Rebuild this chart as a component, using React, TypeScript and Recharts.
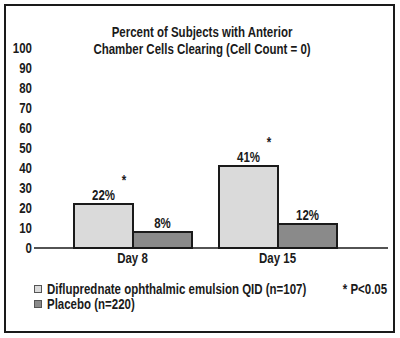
import { BarChart, Bar, XAxis, YAxis, LabelList } from 'recharts';

const days = ['Day 8', 'Day 15'];
const difluprednate = [22, 41];
const placebo = [8, 12];
const significant = [true, true];
const yTicks = [0, 10, 20, 30, 40, 50, 60, 70, 80, 90, 100];

const data = days.map((day, i) => ({
  day,
  diflu: difluprednate[i],
  placebo: placebo[i],
  sig: significant[i],
}));

const FONT = '"Liberation Sans", Arial, sans-serif';
const INK = '#1a1a1a';
const SQUEEZE = 0.82;

// condensed-looking svg text: squeeze horizontally around the anchor point
function NarrowText({ x, y, anchor = 'middle', children }: any) {
  return (
    <text
      transform={`translate(${x},${y}) scale(${SQUEEZE},1)`}
      x={0}
      y={0}
      textAnchor={anchor}
      fontSize={14}
      fontWeight="bold"
      fontFamily={FONT}
      fill={INK}
    >
      {children}
    </text>
  );
}

function XTick(props: any) {
  const { x, y, payload } = props;
  return <NarrowText x={x} y={y + 13}>{payload.value}</NarrowText>;
}

function YTick(props: any) {
  const { x, y, payload } = props;
  return <NarrowText x={x + 1} y={y + 5} anchor="end">{payload.value}</NarrowText>;
}

function PctLabel(props: any) {
  const { x, y, width, value } = props;
  return <NarrowText x={x + width / 2} y={y - 4}>{`${value}%`}</NarrowText>;
}

function StarLabel(props: any) {
  const { x, y, width, index } = props;
  if (!data[index]?.sig) return null;
  return <NarrowText x={x + width - 9} y={y - 19}>*</NarrowText>;
}

const htmlText: any = {
  position: 'absolute',
  fontSize: 14,
  fontWeight: 'bold',
  color: INK,
  lineHeight: '16px',
  whiteSpace: 'nowrap',
  transform: `scaleX(${SQUEEZE})`,
};

export default function App() {
  return (
    <div style={{ position: 'absolute', left: 0, top: 0, width: 400, height: 338, background: '#fff', fontFamily: FONT }}>
      <div style={{ position: 'absolute', left: 4, top: 4, width: 387, height: 325, border: `2px solid ${INK}` }} />
      <div style={{ ...htmlText, left: 0, top: 24, width: 404, textAlign: 'center', lineHeight: '17px', transformOrigin: '202px 0' }}>
        Percent of Subjects with Anterior<br />Chamber Cells Clearing (Cell Count = 0)
      </div>
      <BarChart
        width={400}
        height={338}
        data={data}
        margin={{ top: 48, right: 12, left: 4, bottom: 60 }}
        barGap={0}
        barCategoryGap={14}
        style={{ position: 'absolute', left: 0, top: 0 }}
      >
        <XAxis
          dataKey="day"
          axisLine={{ stroke: INK, strokeWidth: 1.5 }}
          tickLine={false}
          tickSize={0}
          height={30}
          padding={{ left: 26, right: 38 }}
          tick={XTick}
        />
        <YAxis
          domain={[0, 100]}
          ticks={yTicks}
          interval={0}
          axisLine={false}
          tickLine={false}
          tickSize={0}
          tickMargin={3}
          width={30}
          tick={YTick}
        />
        <Bar dataKey="diflu" fill="#dadada" stroke={INK} strokeWidth={2} isAnimationActive={false}>
          <LabelList dataKey="diflu" content={PctLabel} />
          <LabelList dataKey="diflu" content={StarLabel} />
        </Bar>
        <Bar dataKey="placebo" fill="#8a8a8a" stroke={INK} strokeWidth={2} isAnimationActive={false}>
          <LabelList dataKey="placebo" content={PctLabel} />
        </Bar>
      </BarChart>
      <div style={{ position: 'absolute', left: 34, top: 285, width: 8, height: 8, background: '#dadada', border: '1px solid #555', boxSizing: 'border-box' }} />
      <div style={{ position: 'absolute', left: 34, top: 300, width: 8, height: 8, background: '#8a8a8a', border: '1px solid #555', boxSizing: 'border-box' }} />
      <div style={{ ...htmlText, left: 47, top: 281, transformOrigin: '0 0' }}>
        Difluprednate ophthalmic emulsion QID (n=107)
      </div>
      <div style={{ ...htmlText, left: 47, top: 296, transformOrigin: '0 0' }}>
        Placebo (n=220)
      </div>
      <div style={{ ...htmlText, right: 13, top: 281, transformOrigin: '100% 0' }}>
        * P&lt;0.05
      </div>
    </div>
  );
}
